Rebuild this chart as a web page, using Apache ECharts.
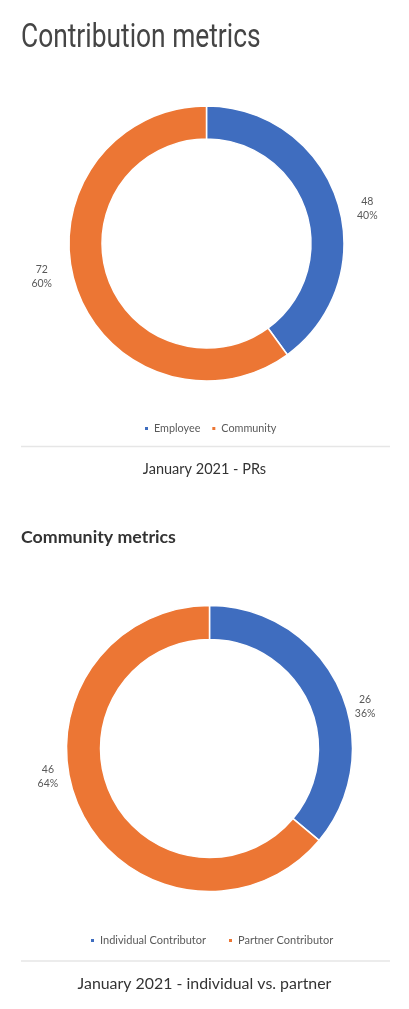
<!DOCTYPE html>
<html>
<head>
<meta charset="utf-8">
<script src="https://cdn.jsdelivr.net/npm/echarts@6/dist/echarts.min.js"></script>
<style>
html,body{margin:0;padding:0;background:#fff;}
#main{width:409px;height:1009px;}
</style>
</head>
<body>
<div id="main"></div>
<script>
// ---- data ----
const prCategories = ['Employee', 'Community'];
const prValues = [48, 72];
const communityCategories = ['Individual Contributor', 'Partner Contributor'];
const communityValues = [26, 46];

const pageTitle = 'Contribution metrics';
const chart1Caption = 'January 2021 - PRs';
const sectionTitle = 'Community metrics';
const chart2Caption = 'January 2021 - individual vs. partner';

const BLUE = '#3F6DBF';
const ORANGE = '#EC7634';
const LABEL_COLOR = '#595959';

const chart = echarts.init(document.getElementById('main'), null, {renderer: 'canvas'});

function toData(cats, vals) {
  return cats.map((c, i) => ({name: c, value: vals[i]}));
}

function pieSeries(cats, vals, center, radius, shifts) {
  return {
    type: 'pie',
    center: center,
    radius: radius,
    startAngle: 90,
    clockwise: true,
    avoidLabelOverlap: false,
    percentPrecision: 0,
    silent: true,
    itemStyle: {borderColor: '#fff', borderWidth: 1.5},
    label: {
      show: true,
      position: 'outside',
      formatter: '{v|{c}}\n{v|{d}%}',
      rich: {
        v: {width: 22, align: 'center', fontSize: 10.5, lineHeight: 14, color: LABEL_COLOR, fontFamily: 'Lato, sans-serif'}
      }
    },
    labelLine: {show: false, length: 0, length2: 0},
    labelLayout: function (p) {
      const s = shifts[p.dataIndex];
      return {dx: s[0], dy: s[1]};
    },
    data: toData(cats, vals)
  };
}

const option = {
  animation: false,
  color: [BLUE, ORANGE],
  title: [
    {text: chart1Caption, left: 'center', top: 462, padding: 0,
      textStyle: {fontFamily: 'Lato, sans-serif', fontWeight: 'normal', fontSize: 14.5, color: '#333'}},
    {text: sectionTitle, left: 21, top: 528, padding: 0,
      textStyle: {fontFamily: 'Lato, sans-serif', fontWeight: 'bold', fontSize: 17.8, color: '#333'}},
    {text: chart2Caption, left: 'center', top: 976, padding: 0,
      textStyle: {fontFamily: 'Lato, sans-serif', fontWeight: 'normal', fontSize: 15.9, color: '#333'}}
  ],
  legend: [
    {data: prCategories, left: 143, top: 423, padding: 0, itemGap: 10, itemWidth: 5, itemHeight: 5, icon: 'rect',
      selectedMode: false,
      textStyle: {fontFamily: 'Lato, sans-serif', fontSize: 10.8, color: LABEL_COLOR}},
    {data: communityCategories, left: 89, top: 935, padding: 0, itemGap: 21, itemWidth: 5, itemHeight: 5, icon: 'rect',
      selectedMode: false,
      textStyle: {fontFamily: 'Lato, sans-serif', fontSize: 11, color: LABEL_COLOR}}
  ],
  graphic: [
    {type: 'text', left: 21, top: 21, scaleX: 0.775, silent: true,
      style: {text: pageTitle, fontFamily: 'Roboto, sans-serif', fontSize: 34, fill: '#454545'}},
    {type: 'line', shape: {x1: 21, y1: 446.5, x2: 390, y2: 446.5}, style: {stroke: '#e6e6e6', lineWidth: 1.5}, silent: true},
    {type: 'line', shape: {x1: 21, y1: 961, x2: 390, y2: 961}, style: {stroke: '#e6e6e6', lineWidth: 1.5}, silent: true}
  ],
  series: [
    pieSeries(prCategories, prValues, [206.5, 243.5], [104.5, 137.5], [[14, 8], [-18, -9]]),
    pieSeries(communityCategories, communityValues, [209.5, 748.5], [109, 143], [[10, 19], [-16, -32]])
  ]
};
chart.setOption(option);
</script>
</body>
</html>
